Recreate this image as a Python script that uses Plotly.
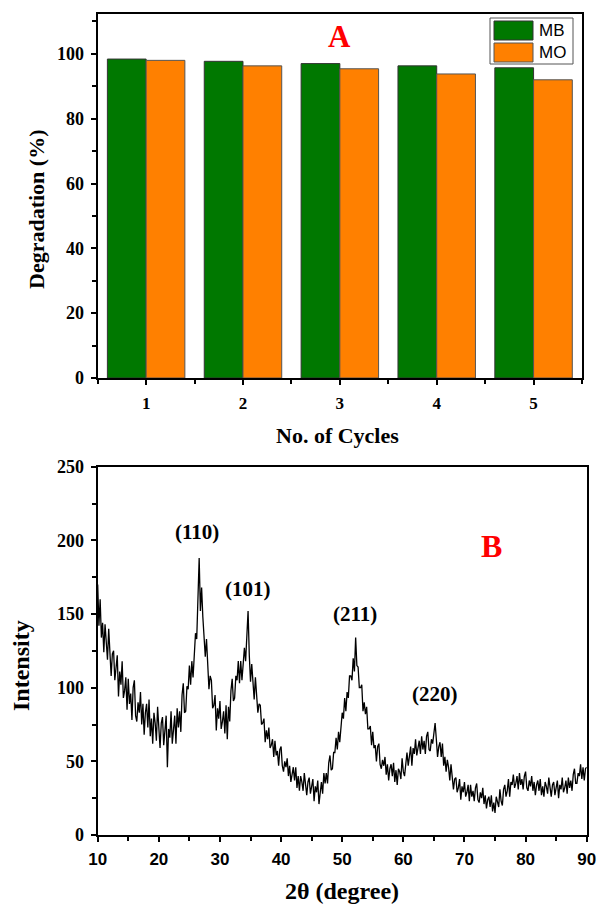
import numpy as np
import plotly.graph_objects as go

# ---- Panel A: photocatalytic degradation over repeated cycles ----
cycles = [1, 2, 3, 4, 5]
mb_degradation = [98.4, 97.7, 97.0, 96.3, 95.7]
mo_degradation = [98.0, 96.3, 95.4, 93.8, 92.0]

# ---- Panel B: XRD pattern (2-theta from 10 to 90 deg, 0.2 deg step) ----
two_theta = np.round(np.arange(10.0, 90.001, 0.2), 1)
intensity = [
    170, 142, 160, 134, 144,   124, 143, 133, 119, 140,   # 10-11
    118, 108, 123, 125, 105,   112, 122, 94, 111, 102,    # 12-13
    118, 93, 98, 107, 85,      106, 89, 96, 78, 100,      # 14-15
    105, 81, 77, 90, 83,       97, 75, 89, 68, 83,        # 16-17
    89, 73, 92, 67, 79,        62, 83, 76, 64, 87,        # 18-19
    68, 59, 76, 80, 61,        69, 81, 46, 72, 66,        # 20-21
    84, 62, 70, 81, 62,        86, 73, 84, 70, 95,        # 22-23
    103, 83, 84, 101, 99,      115, 102, 118, 107, 125,   # 24-25
    137, 133, 158, 188, 152,   168, 148, 136, 121, 133,   # 26-27
    111, 99, 108, 105, 86,     88, 95, 71, 86, 79,        # 28-29
    91, 72, 77, 84, 69,        88, 65, 87, 77, 98,        # 30-31
    106, 91, 93, 108, 105,     118, 103, 118, 105, 119,   # 32-33
    127, 118, 137, 152, 122,   104, 116, 105, 92, 107,    # 34-35
    90, 83, 89, 88, 75,        76, 79, 63, 71, 65,        # 36-37
    73, 59, 61, 65, 53,        64, 54, 57, 47, 58,        # 38-39
    60, 47, 43, 50, 46,        52, 40, 47, 36, 43,        # 40-41
    46, 37, 46, 32, 40,        30, 40, 36, 30, 42,        # 42-43
    32, 27, 36, 39, 28,        32, 38, 23, 33, 29,        # 44-45
    37, 21, 30, 36, 28,        42, 35, 42, 35, 49,        # 46-47
    54, 44, 45, 56, 56,        66, 58, 70, 63, 75,        # 48-49
    83, 79, 93, 84, 97,        93, 108, 108, 105, 120,    # 50-51
    111, 134, 115, 114, 100,   100, 102, 84, 90, 82,      # 52-53
    87, 72, 72, 74, 61,        70, 59, 61, 50, 60,        # 54-55
    62, 48, 45, 51, 47,        53, 41, 48, 37, 45,        # 56-57
    48, 40, 49, 36, 44,        34, 45, 43, 38, 52,        # 58-59
    43, 40, 51, 56, 47,        52, 60, 47, 59, 55,        # 60-61
    65, 54, 59, 64, 55,        67, 58, 64, 55, 67,        # 62-63
    70, 58, 57, 65, 62,        69, 76, 65, 53, 60,        # 64-65
    63, 53, 62, 47, 53,        43, 51, 46, 37, 48,        # 66-67
    36, 31, 38, 39, 29,        32, 38, 24, 33, 29,        # 68-69
    36, 26, 29, 34, 23,        34, 26, 30, 23, 32,        # 70-71
    35, 24, 22, 29, 25,        32, 21, 27, 18, 24,        # 72-73
    26, 19, 27, 16, 22,        15, 26, 23, 19, 31,        # 74-75
    23, 20, 31, 34, 26,        30, 38, 26, 36, 34,        # 76-77
    41, 32, 35, 40, 31,        42, 34, 38, 31, 40,        # 78-79
    43, 32, 30, 37, 33,        40, 30, 36, 27, 34,        # 80-81
    37, 30, 38, 27, 33,        26, 36, 33, 28, 39,        # 82-83
    30, 26, 34, 36, 27,        31, 37, 25, 34, 31,        # 84-85
    39, 29, 32, 37, 28,        39, 32, 37, 30, 41,        # 86-87
    45, 35, 35, 42, 40,        48, 38, 46, 37, 45,        # 88-89
    46,                                                   # 90
]

peak_labels = ["(110)", "(101)", "(211)", "(220)"]
peak_label_x = [26.2, 34.6, 52.1, 65.1]
peak_label_y = [206, 167, 150, 96]

GREEN = "#007800"
ORANGE = "#FF8000"
SERIF = "Liberation Serif"
SANS = "Liberation Sans"
W, H = 597, 906


def px(x):
    return x / W


def py(y):
    return 1 - y / H


fig = go.Figure()

fig.add_trace(go.Bar(
    x=cycles, y=mb_degradation, name="MB", xaxis="x", yaxis="y",
    marker=dict(color=GREEN, line=dict(color="#333333", width=1)),
    showlegend=False,
))
fig.add_trace(go.Bar(
    x=cycles, y=mo_degradation, name="MO", xaxis="x", yaxis="y",
    marker=dict(color=ORANGE, line=dict(color="#555555", width=1)),
    showlegend=False,
))

fig.add_trace(go.Scatter(
    x=two_theta, y=intensity, mode="lines", xaxis="x2", yaxis="y2",
    line=dict(color="black", width=1.3), showlegend=False,
))

axis_common = dict(
    showline=True, linecolor="black", linewidth=2, mirror=True,
    ticks="outside", ticklen=5, tickwidth=2, tickcolor="black",
    showgrid=False, zeroline=False, automargin=False,
)
minor_common = dict(ticks="outside", ticklen=4, tickwidth=2, tickcolor="black")

fig.update_layout(
    width=W, height=H,
    margin=dict(l=0, r=0, t=0, b=0),
    paper_bgcolor="white", plot_bgcolor="white",
    barmode="group", bargap=0.2, bargroupgap=0,
    xaxis=dict(
        **axis_common, domain=[px(97.7), px(582)], anchor="y",
        range=[0.5, 5.5], tickmode="array", tickvals=cycles,
        tickfont=dict(family=SERIF, size=17, color="black", weight="bold"),
        ticklabelstandoff=4,
        minor=dict(**minor_common, tick0=0.5, dtick=1),
    ),
    yaxis=dict(
        **axis_common, domain=[py(378), py(14)], anchor="x",
        range=[0, 112.3], tick0=0, dtick=20,
        tickfont=dict(family=SERIF, size=18, color="black", weight="bold"),
        ticklabelstandoff=3,
        minor=dict(**minor_common, tick0=10, dtick=20),
    ),
    xaxis2=dict(
        **axis_common, domain=[px(97.7), px(586.7)], anchor="y2",
        range=[10, 90], tick0=10, dtick=10,
        tickfont=dict(family=SANS, size=17, color="black", weight="bold"),
        ticklabelstandoff=3,
        minor=dict(**minor_common, tick0=15, dtick=10),
    ),
    yaxis2=dict(
        **axis_common, domain=[py(835), py(466.7)], anchor="x2",
        range=[0, 250], tick0=0, dtick=50,
        tickfont=dict(family=SERIF, size=18, color="black", weight="bold"),
        ticklabelstandoff=3,
        minor=dict(**minor_common, tick0=25, dtick=50),
    ),
)

annotations = [
    # axis titles
    dict(text="Degradation (%)", x=px(37), y=py(210), xref="paper", yref="paper",
         textangle=-90, showarrow=False, xanchor="center", yanchor="middle",
         font=dict(family=SERIF, size=22, color="black", weight="bold")),
    dict(text="No. of Cycles", x=px(337), y=py(435), xref="paper", yref="paper",
         showarrow=False, xanchor="center", yanchor="middle",
         font=dict(family=SERIF, size=22, color="black", weight="bold")),
    dict(text="Intensity", x=px(21), y=py(666), xref="paper", yref="paper",
         textangle=-90, showarrow=False, xanchor="center", yanchor="middle",
         font=dict(family=SERIF, size=24, color="black", weight="bold")),
    dict(text="2θ (degree)", x=px(342), y=py(891), xref="paper", yref="paper",
         showarrow=False, xanchor="center", yanchor="middle",
         font=dict(family=SERIF, size=24, color="black", weight="bold")),
    # panel letters
    dict(text="A", x=3.0, y=105.5, xref="x", yref="y", showarrow=False,
         xanchor="center", yanchor="middle",
         font=dict(family=SERIF, size=31, color="red", weight="bold")),
    dict(text="B", x=74.5, y=196, xref="x2", yref="y2", showarrow=False,
         xanchor="center", yanchor="middle",
         font=dict(family=SERIF, size=32, color="red", weight="bold")),
    # legend labels
    dict(text="MB", x=px(537), y=py(30.5), xref="paper", yref="paper",
         xanchor="left", yanchor="middle", showarrow=False,
         font=dict(family=SANS, size=17, color="black")),
    dict(text="MO", x=px(537), y=py(52.5), xref="paper", yref="paper",
         xanchor="left", yanchor="middle", showarrow=False,
         font=dict(family=SANS, size=17, color="black")),
]
for lab, lx, ly in zip(peak_labels, peak_label_x, peak_label_y):
    annotations.append(dict(
        text=lab, x=lx, y=ly, xref="x2", yref="y2", showarrow=False,
        xanchor="center", yanchor="middle",
        font=dict(family=SERIF, size=21, color="black", weight="bold"),
    ))
fig.update_layout(annotations=annotations)

# legend box with swatches for panel A
shapes = [
    dict(type="rect", xref="paper", yref="paper",
         x0=px(490), x1=px(573), y0=py(64), y1=py(18),
         line=dict(color="#555555", width=1), fillcolor="white"),
    dict(type="rect", xref="paper", yref="paper",
         x0=px(494), x1=px(533), y0=py(40), y1=py(21),
         line=dict(color="#333333", width=1), fillcolor=GREEN),
    dict(type="rect", xref="paper", yref="paper",
         x0=px(494), x1=px(533), y0=py(62), y1=py(43),
         line=dict(color="#555555", width=1), fillcolor=ORANGE),
]
fig.update_layout(shapes=shapes)

fig.write_html("out.html")
